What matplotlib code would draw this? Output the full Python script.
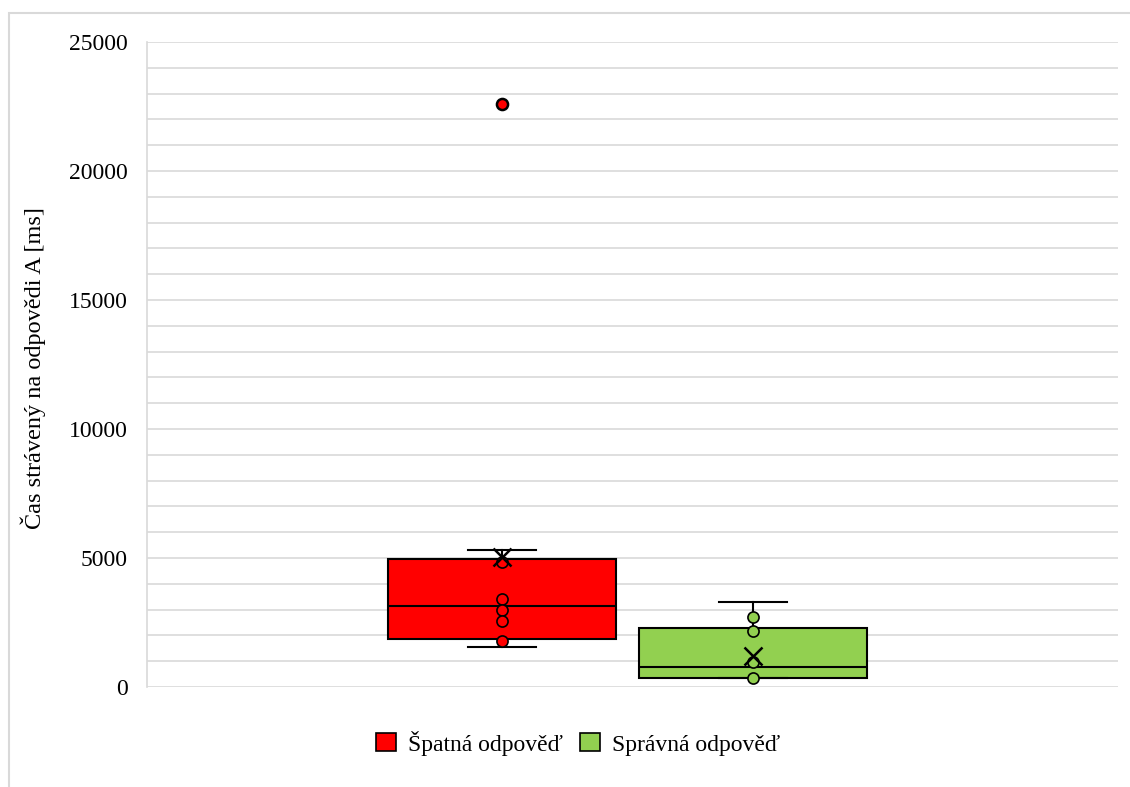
import matplotlib
matplotlib.use("Agg")
import matplotlib.pyplot as plt
from matplotlib.patches import Rectangle, Patch
from matplotlib.ticker import MultipleLocator

plt.rcParams['font.family'] = ['Liberation Serif', 'DejaVu Serif']

labels = ["Špatná odpověď", "Správná odpověď"]
colors = ["#ff0000", "#92d050"]

# box stats (ms)
q1 = [1860, 330]
med = [3140, 760]
q3 = [4950, 2300]
whislo = [1550, 330]
whishi = [5310, 3310]
means = [5050, 1210]

# inner points and outliers
points = [
    [4840, 3410, 2980, 2570, 1780],
    [2730, 2170, 980, 330],
]
outliers = [[22600], []]

fig = plt.figure(figsize=(11.3, 7.87), dpi=100)
ax = fig.add_axes([147/1130, 1 - 687/787, (1118-147)/1130, (687-42)/787])

# chart border (only top and left edges fall inside the image)
fig.patches.append(Rectangle((9/1130, -0.05), 1.2, 1 - 13/787 + 0.05, transform=fig.transFigure,
                             fill=False, edgecolor='#d9d9d9', linewidth=1.5))

pos = [1, 2]
stats = []
for i in range(2):
    stats.append({'q1': q1[i], 'med': med[i], 'q3': q3[i],
                  'whislo': whislo[i], 'whishi': whishi[i], 'fliers': []})

bp = ax.bxp(stats, positions=pos, widths=0.908, patch_artist=True, showfliers=False,
            boxprops=dict(linewidth=1.5, edgecolor='black'),
            medianprops=dict(color='black', linewidth=1.5),
            whiskerprops=dict(color='black', linewidth=1.5),
            capprops=dict(color='black', linewidth=1.5), capwidths=0.27)
for patch, c in zip(bp['boxes'], colors):
    patch.set_facecolor(c)

for i in range(2):
    ax.plot([pos[i]] * len(points[i]), points[i], 'o', ms=8, mfc=colors[i], mec='black',
            mew=1.2, zorder=4, linestyle='none')
    if outliers[i]:
        ax.plot([pos[i]] * len(outliers[i]), outliers[i], 'o', ms=8, mfc=colors[i],
                mec='black', mew=1.8, zorder=4, linestyle='none')
    ax.plot(pos[i], means[i], 'x', ms=13, mec='black', mew=1.8, zorder=5)

ax.set_xlim(-0.414, 3.454)
ax.set_ylim(0, 25000)
ax.yaxis.set_major_locator(MultipleLocator(5000))
ax.yaxis.set_minor_locator(MultipleLocator(1000))
ax.grid(True, which='both', axis='y', color='#d9d9d9', linewidth=1.2)
ax.set_axisbelow(True)
for s in ['top', 'right', 'bottom']:
    ax.spines[s].set_visible(False)
ax.spines['left'].set_color('#d9d9d9')
ax.spines['left'].set_linewidth(1.2)
ax.tick_params(axis='y', which='both', length=0, pad=14, labelsize=17)
ax.set_xticks([])

fig.text(33/1130, 1 - 368/787, "Čas strávený na odpovědi A [ms]", rotation=90,
         ha='center', va='center', fontsize=17.5)

handles = [Patch(facecolor=c, edgecolor='black', linewidth=1.2) for c in colors]
fig.legend(handles, labels, loc='center', bbox_to_anchor=(578/1130, 1 - 743/787),
           ncol=2, frameon=False, fontsize=17, handlelength=0.85, handleheight=0.8,
           handletextpad=0.5, columnspacing=0.72)

fig.savefig("out.png", dpi=100)
